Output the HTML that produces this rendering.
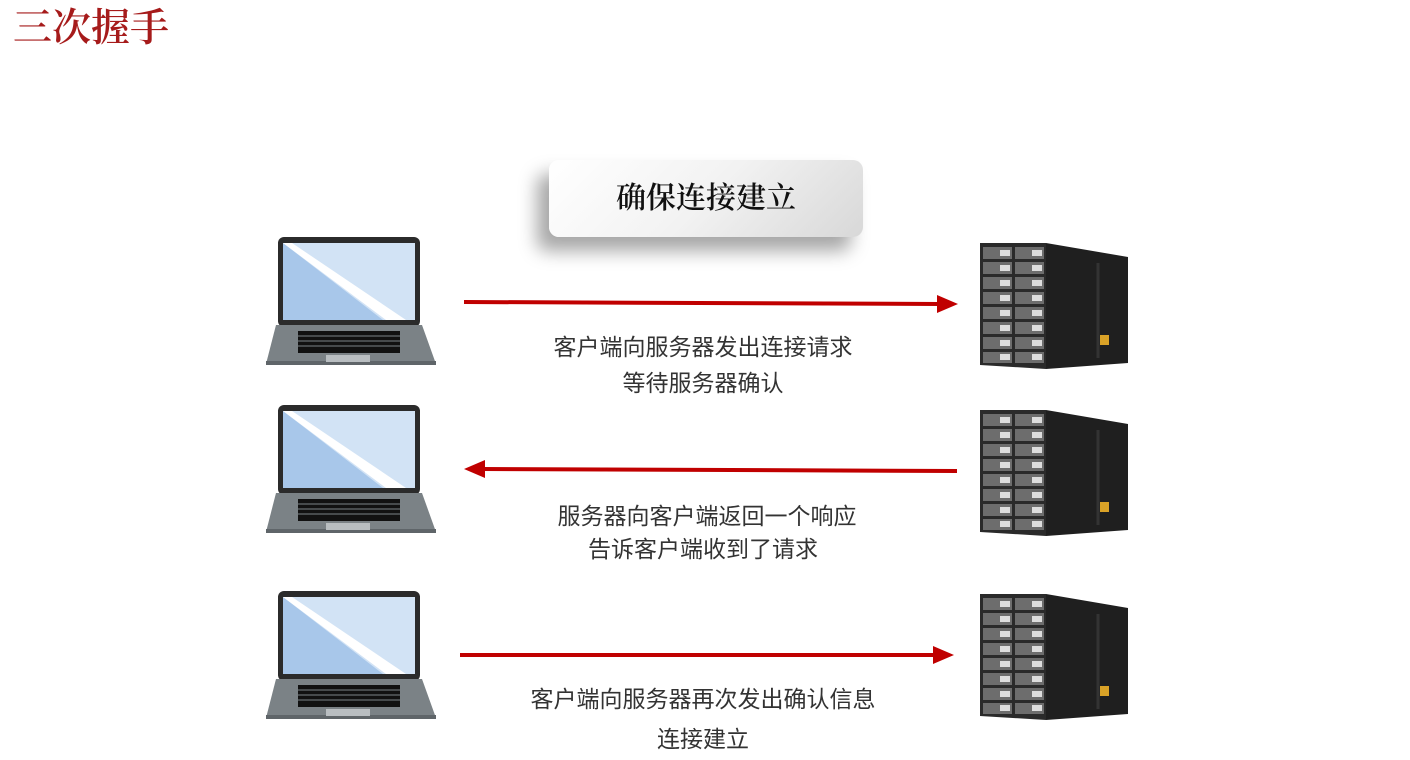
<!DOCTYPE html>
<html><head><meta charset="utf-8"><style>
body{margin:0;width:1410px;height:760px;background:#fff;overflow:hidden;position:relative;font-family:"Liberation Sans","Noto Sans CJK SC",sans-serif}
.t{position:absolute;left:0;width:1406px;text-align:center;font-size:23px;color:#333;line-height:1}
</style></head><body>
<div style="position:absolute;left:13px;top:8px;font-family:'Liberation Serif','Noto Serif CJK SC',serif;font-size:39px;color:#a61b1b;line-height:1.1;font-weight:600">三次握手</div>
<div style="position:absolute;left:549px;top:160px;width:314px;height:77px;border-radius:10px;background:linear-gradient(135deg,#fff 0%,#f2f2f2 50%,#d8d8d8 100%);box-shadow:-12px 14px 18px rgba(0,0,0,0.35);text-align:center;line-height:77px;font-family:'Liberation Serif','Noto Serif CJK SC',serif;font-size:30px;color:#111;font-weight:600">确保连接建立</div>
<svg width="1410" height="760" style="position:absolute;left:0;top:0">
<defs>
<g id="lap">
<rect x="12" y="0" width="142" height="90" rx="6" fill="#2b2b2b"/>
<rect x="17" y="6" width="132" height="77" fill="#d2e3f5"/>
<polygon points="17,6 17,83 117,83" fill="#a8c7ea"/>
<polygon points="17,6 26,6 140,83 120,83" fill="#fff"/>
<polygon points="10,88 156,88 170,127 0,127" fill="#7b8286"/>
<rect x="0" y="124" width="170" height="4" fill="#5f6569"/>
<rect x="32" y="94" width="102" height="22" fill="#111"/>
<g stroke="#7b8286" stroke-width="1">
<line x1="32" y1="99" x2="134" y2="99"/><line x1="32" y1="104" x2="134" y2="104"/><line x1="32" y1="109" x2="134" y2="109"/>
</g>
<rect x="60" y="118" width="44" height="7" fill="#b9bec1"/>
</g>
<g id="srv">
<polygon points="66,0 148,14 148,120 66,126" fill="#1f1f1f"/>
<line x1="118" y1="20" x2="118" y2="115" stroke="#333" stroke-width="3"/>
<rect x="120" y="92" width="9" height="10" fill="#d9a227"/>
<polygon points="0,0 66,0 66,126 0,122" fill="#2a2a2a"/>
<g fill="#6d6d6d">
<rect x="3" y="4" width="29" height="12"/><rect x="35" y="4" width="29" height="12"/>
<rect x="3" y="19" width="29" height="12"/><rect x="35" y="19" width="29" height="12"/>
<rect x="3" y="34" width="29" height="12"/><rect x="35" y="34" width="29" height="12"/>
<rect x="3" y="49" width="29" height="12"/><rect x="35" y="49" width="29" height="12"/>
<rect x="3" y="64" width="29" height="12"/><rect x="35" y="64" width="29" height="12"/>
<rect x="3" y="79" width="29" height="12"/><rect x="35" y="79" width="29" height="12"/>
<rect x="3" y="94" width="29" height="12"/><rect x="35" y="94" width="29" height="12"/>
<rect x="3" y="109" width="29" height="11"/><rect x="35" y="109" width="29" height="11"/>
</g>
<g fill="#ddd">
<rect x="20" y="7" width="10" height="6"/><rect x="52" y="7" width="10" height="6"/>
<rect x="20" y="22" width="10" height="6"/><rect x="52" y="22" width="10" height="6"/>
<rect x="20" y="37" width="10" height="6"/><rect x="52" y="37" width="10" height="6"/>
<rect x="20" y="52" width="10" height="6"/><rect x="52" y="52" width="10" height="6"/>
<rect x="20" y="67" width="10" height="6"/><rect x="52" y="67" width="10" height="6"/>
<rect x="20" y="82" width="10" height="6"/><rect x="52" y="82" width="10" height="6"/>
<rect x="20" y="97" width="10" height="6"/><rect x="52" y="97" width="10" height="6"/>
<rect x="20" y="111" width="10" height="6"/><rect x="52" y="111" width="10" height="6"/>
</g>
</g>
</defs>
<use href="#lap" x="266" y="237"/>
<use href="#lap" x="266" y="405"/>
<use href="#lap" x="266" y="591"/>
<use href="#srv" x="980" y="243"/>
<use href="#srv" x="980" y="410"/>
<use href="#srv" x="980" y="594"/>
<line x1="464" y1="302" x2="940" y2="304" stroke="#c00000" stroke-width="4"/>
<polygon points="937,295 958,304 937,313" fill="#c00000"/>
<line x1="482" y1="469" x2="957" y2="471" stroke="#c00000" stroke-width="4"/>
<polygon points="485,460 464,469 485,478" fill="#c00000"/>
<line x1="460" y1="655" x2="936" y2="655" stroke="#c00000" stroke-width="4"/>
<polygon points="933,646 954,655 933,664" fill="#c00000"/>
</svg>
<div class="t" style="top:336px">客户端向服务器发出连接请求</div>
<div class="t" style="top:372px">等待服务器确认</div>
<div class="t" style="top:505px;left:4px">服务器向客户端返回一个响应</div>
<div class="t" style="top:538px">告诉客户端收到了请求</div>
<div class="t" style="top:688px">客户端向服务器再次发出确认信息</div>
<div class="t" style="top:728px">连接建立</div>
</body></html>
